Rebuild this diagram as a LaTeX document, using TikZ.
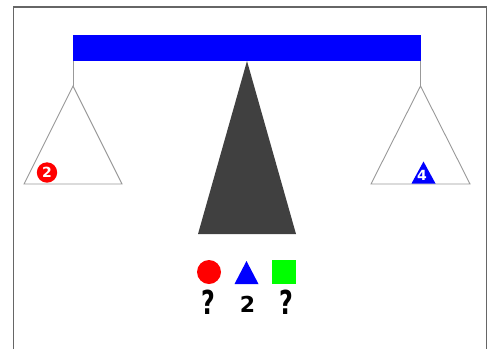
\documentclass[tikz,border=0pt]{standalone}
\usepackage{fontspec}
\setsansfont{DejaVu Sans}
\usetikzlibrary{calc, positioning}

\begin{document}
\begin{tikzpicture}[
    x=1pt, y=-1pt,
    frame/.style={draw=black!60, line width=1.3pt},
    rope/.style={draw=black!40, line width=0.9pt},
    pan/.style={draw=black!40, line width=0.9pt, fill=white},
    digit/.style={inner sep=0pt, text=white, font=\sffamily\bfseries\fontsize{14}{14}\selectfont},
    weight/.style={inner sep=0pt, anchor=base, font=\sffamily\bfseries\fontsize{#1}{#1}\selectfont},
]
\useasboundingbox (0,0) rectangle (495,349);
\fill[white] (0,0) rectangle (495,349);
\draw[frame] (13.5,349) -- (13.5,7) -- (486.5,7) -- (486.5,349);

% ── Beam and fulcrum ─────────────────────────────────────────
\fill[blue] (72.5,35) rectangle (420.5,60.5);
\fill[black!75] (247,61) -- (296,234) -- (198,234) -- cycle;

% ── Left pan ─────────────────────────────────────────────────
\coordinate (lhook) at (73,60.5);
\coordinate (ltop) at (73,86);
\draw[rope] (lhook) -- (ltop);
\draw[pan] (ltop) -- (122,184) -- (24,184) -- cycle;
\fill[red] (47,172.5) circle (10.2);
\node[digit] (lball) at (47,172.5) {2};

% ── Right pan ────────────────────────────────────────────────
\coordinate (rhook) at (420.5,60.5);
\coordinate (rtop) at (420.5,86);
\draw[rope] (rhook) -- (rtop);
\draw[pan] (rtop) -- (470,184) -- (371,184) -- cycle;
\fill[blue] (423.5,161.5) -- (435.5,183.5) -- (411.5,183.5) -- cycle;
\node[digit] (rprism) at (422,175) {4};

% ── Legend ───────────────────────────────────────────────────
\fill[red] (209,272) circle (12);
\fill[blue] (246.5,261) -- (258.5,284) -- (234.5,284) -- cycle;
\fill[green] (271.5,260) rectangle (296,284);
\node[weight=33] (qball) at (208,314) {\scalebox{0.72}[1]{?}};
\node[weight=22] (nprism) at (247.5,312.5) {2};
\node[weight=33] (qcube) at (286,314) {\scalebox{0.72}[1]{?}};

\end{tikzpicture}
\end{document}
